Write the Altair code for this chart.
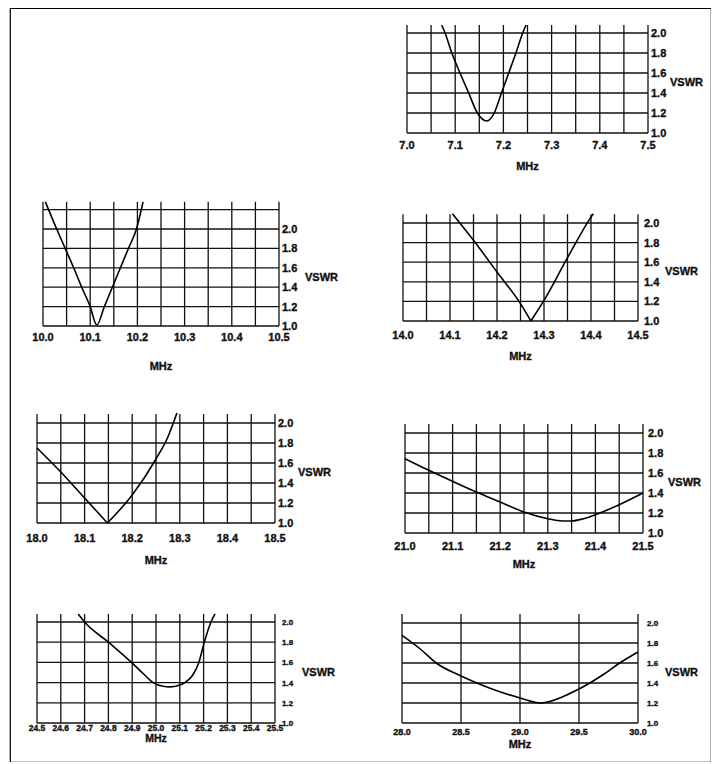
import altair as alt
import pandas as pd

# ---------------- data ----------------
# Panel 1: 7.0 - 7.5 MHz
p1_freq = [7.072, 7.079, 7.093, 7.110, 7.128, 7.146, 7.1655, 7.181, 7.196, 7.211, 7.226, 7.240, 7.247]
p1_vswr = [2.08, 2.00, 1.80, 1.60, 1.40, 1.20, 1.12, 1.20, 1.40, 1.60, 1.80, 2.00, 2.08]
p1_grid = [7.0, 7.05, 7.1, 7.15, 7.2, 7.25, 7.3, 7.35, 7.4, 7.45, 7.5]
p1_ticks = [7.0, 7.1, 7.2, 7.3, 7.4, 7.5]
p1_labels = ["7.0", "7.1", "7.2", "7.3", "7.4", "7.5"]

# Panel 2: 10.0 - 10.5 MHz
p2_freq = [10.005, 10.029, 10.047, 10.065, 10.082, 10.100, 10.114, 10.130, 10.147, 10.164, 10.181, 10.198, 10.212]
p2_vswr = [2.28, 2.00, 1.80, 1.60, 1.40, 1.20, 1.01, 1.20, 1.40, 1.60, 1.80, 2.00, 2.28]
p2_grid = [10.0, 10.05, 10.1, 10.15, 10.2, 10.25, 10.3, 10.35, 10.4, 10.45, 10.5]
p2_ticks = [10.0, 10.1, 10.2, 10.3, 10.4, 10.5]
p2_labels = ["10.0", "10.1", "10.2", "10.3", "10.4", "10.5"]

# Panel 3: 14.0 - 14.5 MHz
p3_freq = [14.105, 14.150, 14.200, 14.250, 14.272, 14.300, 14.350, 14.400, 14.405]
p3_vswr = [2.095, 1.823, 1.50, 1.177, 1.00, 1.21, 1.646, 2.06, 2.095]
p3_grid = [14.0, 14.05, 14.1, 14.15, 14.2, 14.25, 14.3, 14.35, 14.4, 14.45, 14.5]
p3_ticks = [14.0, 14.1, 14.2, 14.3, 14.4, 14.5]
p3_labels = ["14.0", "14.1", "14.2", "14.3", "14.4", "14.5"]

# Panel 4: 18.0 - 18.5 MHz
p4_freq = [18.0, 18.05, 18.10, 18.148, 18.20, 18.25, 18.275, 18.294]
p4_vswr = [1.75, 1.51, 1.25, 1.00, 1.28, 1.64, 1.86, 2.10]
p4_grid = [18.0, 18.05, 18.1, 18.15, 18.2, 18.25, 18.3, 18.35, 18.4, 18.45, 18.5]
p4_ticks = [18.0, 18.1, 18.2, 18.3, 18.4, 18.5]
p4_labels = ["18.0", "18.1", "18.2", "18.3", "18.4", "18.5"]

# Panel 5: 21.0 - 21.5 MHz
p5_freq = [21.0, 21.05, 21.1, 21.15, 21.2, 21.25, 21.3, 21.33, 21.35, 21.375, 21.4, 21.45, 21.5]
p5_vswr = [1.743, 1.627, 1.517, 1.41, 1.31, 1.21, 1.143, 1.12, 1.12, 1.143, 1.183, 1.283, 1.40]
p5_grid = [21.0, 21.05, 21.1, 21.15, 21.2, 21.25, 21.3, 21.35, 21.4, 21.45, 21.5]
p5_ticks = [21.0, 21.1, 21.2, 21.3, 21.4, 21.5]
p5_labels = ["21.0", "21.1", "21.2", "21.3", "21.4", "21.5"]

# Panel 6: 24.5 - 25.5 MHz
p6_freq = [24.673, 24.70, 24.80, 24.897, 24.946, 24.988, 25.03, 25.058, 25.097, 25.121, 25.156, 25.18, 25.203, 25.231, 25.248]
p6_vswr = [2.08, 2.00, 1.80, 1.60, 1.49, 1.40, 1.364, 1.358, 1.374, 1.40, 1.48, 1.60, 1.80, 2.00, 2.08]
p6_grid = [24.5, 24.6, 24.7, 24.8, 24.9, 25.0, 25.1, 25.2, 25.3, 25.4, 25.5]
p6_ticks = [24.5, 24.6, 24.7, 24.8, 24.9, 25.0, 25.1, 25.2, 25.3, 25.4, 25.5]
p6_labels = ["24.5", "24.6", "24.7", "24.8", "24.9", "25.0", "25.1", "25.2", "25.3", "25.4", "25.5"]

# Panel 7: 28.0 - 30.0 MHz
p7_freq = [28.0, 28.15, 28.29, 28.5, 28.74, 29.0, 29.17, 29.25, 29.5, 29.7, 29.845, 30.0]
p7_vswr = [1.877, 1.745, 1.60, 1.47, 1.35, 1.25, 1.20, 1.215, 1.34, 1.48, 1.60, 1.71]
p7_grid = [28.0, 28.5, 29.0, 29.5, 30.0]
p7_ticks = [28.0, 28.5, 29.0, 29.5, 30.0]
p7_labels = ["28.0", "28.5", "29.0", "29.5", "30.0"]

vswr_ticks = [1.0, 1.2, 1.4, 1.6, 1.8, 2.0]
vswr_labels = ["1.0", "1.2", "1.4", "1.6", "1.8", "2.0"]

# ---------------- layout (page pixels) ----------------
OX, OY = 10, 8          # view origin on the page
W, H = 701, 754
FONT = "Liberation Sans, Arial, Helvetica, sans-serif"
INK = "#111111"

layout = [
    dict(px=(407, 648), py=(133, 33), top=2.08, extra=[], fs=11, yfs=11, mfs=11, ldy=13, tdy=34, ydx=3, vdx=22, split=False),
    dict(px=(43, 279), py=(326, 229), top=2.28, extra=[2.2], fs=11, yfs=11, mfs=11, ldy=12, tdy=41, ydx=3, vdx=26, split=False),
    dict(px=(403, 638), py=(321, 223), top=2.09, extra=[], fs=11, yfs=11, mfs=11, ldy=15, tdy=36, ydx=6, vdx=27, split=True),
    dict(px=(37, 275), py=(523, 423), top=2.09, extra=[], fs=11, yfs=11, mfs=11, ldy=16, tdy=38, ydx=3, vdx=23, split=True),
    dict(px=(405, 643), py=(533, 433), top=2.09, extra=[], fs=11, yfs=11, mfs=11, ldy=14, tdy=32, ydx=5, vdx=25, split=False),
    dict(px=(37, 275), py=(723, 622), top=2.08, extra=[], fs=8.5, yfs=8, mfs=10.5, ldy=5, tdy=16, ydx=7, vdx=27, split=False),
    dict(px=(402, 638), py=(723, 623), top=2.09, extra=[], fs=9, yfs=8, mfs=11, ldy=8.5, tdy=22, ydx=9, vdx=27, split=False),
]

panels_data = [
    (p1_freq, p1_vswr, p1_grid, p1_ticks, p1_labels),
    (p2_freq, p2_vswr, p2_grid, p2_ticks, p2_labels),
    (p3_freq, p3_vswr, p3_grid, p3_ticks, p3_labels),
    (p4_freq, p4_vswr, p4_grid, p4_ticks, p4_labels),
    (p5_freq, p5_vswr, p5_grid, p5_ticks, p5_labels),
    (p6_freq, p6_vswr, p6_grid, p6_ticks, p6_labels),
    (p7_freq, p7_vswr, p7_grid, p7_ticks, p7_labels),
]


def curve_frame(freq, vswr, split):
    if not split:
        return pd.DataFrame({"f": freq, "v": vswr, "seg": ["a"] * len(freq)})
    i = vswr.index(min(vswr))
    left = pd.DataFrame({"f": freq[: i + 1], "v": vswr[: i + 1], "seg": "a"})
    right = pd.DataFrame({"f": freq[i:], "v": vswr[i:], "seg": "b"})
    return pd.concat([left, right], ignore_index=True)


def make_panel(freq, vswr, grid, ticks, labels, cfg):
    x0, x1 = grid[0], grid[-1]
    xs = alt.Scale(domain=[x0, x1], range=[cfg["px"][0] - OX, cfg["px"][1] - OX], nice=False, zero=False)
    ys = alt.Scale(domain=[1.0, 2.0], range=[cfg["py"][0] - OY, cfg["py"][1] - OY], nice=False, zero=False)

    def X(f):
        return alt.X(f, type="quantitative", scale=xs, axis=None)

    def Y(f):
        return alt.Y(f, type="quantitative", scale=ys, axis=None)

    vgrid = pd.DataFrame({"f": grid, "lo": [1.0] * len(grid), "hi": [cfg["top"]] * len(grid)})
    hv = vswr_ticks + cfg["extra"]
    hgrid = pd.DataFrame({"v": hv, "a": [x0] * len(hv), "b": [x1] * len(hv)})
    curve = curve_frame(freq, vswr, cfg["split"])
    xlab = pd.DataFrame({"f": ticks, "v": [1.0] * len(ticks), "t": labels})
    ylab = pd.DataFrame({"f": [x1] * len(vswr_ticks), "v": vswr_ticks, "t": vswr_labels})
    mhz = pd.DataFrame({"f": [(x0 + x1) / 2], "v": [1.0], "t": ["MHz"]})
    vsw = pd.DataFrame({"f": [x1], "v": [1.5], "t": ["VSWR"]})

    txt = dict(font=FONT, fontWeight="bold", color=INK, stroke=INK, strokeWidth=0.35, baseline="middle")

    l_v = alt.Chart(vgrid).mark_rule(color=INK, strokeWidth=1.3).encode(x=X("f"), y=Y("lo"), y2="hi")
    l_h = alt.Chart(hgrid).mark_rule(color=INK, strokeWidth=1.3).encode(x=X("a"), x2="b", y=Y("v"))
    l_c = alt.Chart(curve).mark_line(color="black", strokeWidth=1.6, interpolate="monotone").encode(
        x=X("f"), y=Y("v"), detail="seg:N", order="f:Q"
    )
    l_xl = alt.Chart(xlab).mark_text(fontSize=cfg["fs"], align="center", dy=cfg["ldy"], **txt).encode(
        x=X("f"), y=Y("v"), text="t:N"
    )
    l_yl = alt.Chart(ylab).mark_text(fontSize=cfg["yfs"], align="left", dx=cfg["ydx"], dy=1, **txt).encode(
        x=X("f"), y=Y("v"), text="t:N"
    )
    l_m = alt.Chart(mhz).mark_text(fontSize=cfg["mfs"], align="center", dy=cfg["tdy"], **txt).encode(
        x=X("f"), y=Y("v"), text="t:N"
    )
    l_s = alt.Chart(vsw).mark_text(fontSize=11, align="left", dx=cfg["vdx"], **txt).encode(
        x=X("f"), y=Y("v"), text="t:N"
    )
    return alt.layer(l_v, l_h, l_c, l_xl, l_yl, l_m, l_s)


panels = [make_panel(*d, cfg) for d, cfg in zip(panels_data, layout)]

chart = (
    alt.layer(*panels)
    .resolve_scale(x="independent", y="independent")
    .properties(
        width=W,
        height=H,
        padding={"left": 2, "top": 0, "right": 0, "bottom": 0},
        autosize=alt.AutoSizeParams(type="none"),
        background="white",
    )
    .configure_view(stroke="black", strokeWidth=1.2)
)

chart.save("out.html", embed_options={"renderer": "svg", "actions": False})
